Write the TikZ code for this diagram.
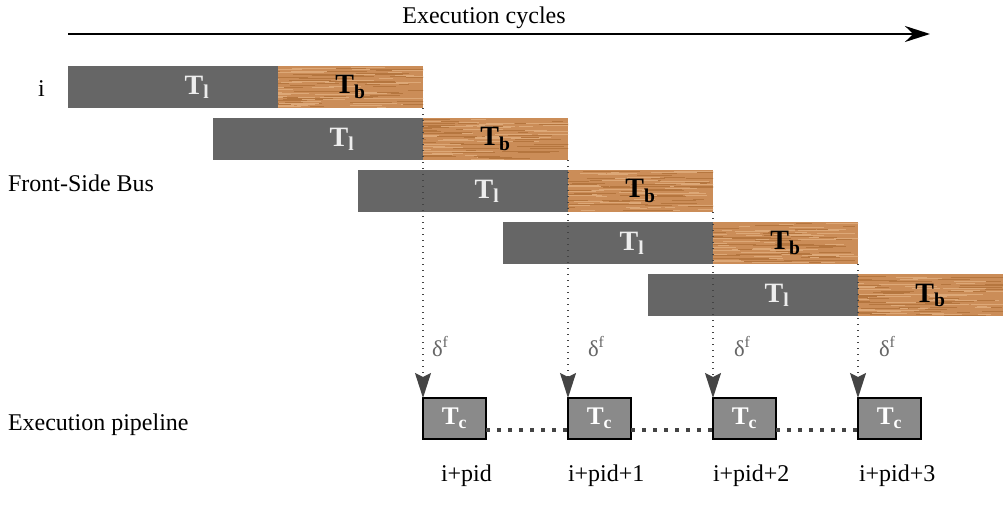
\documentclass[tikz,border=0pt]{standalone}
\usepackage{fontspec}
\setmainfont{Liberation Serif}
\usetikzlibrary{arrows.meta, positioning, calc}

\definecolor{barg}{HTML}{666666}
\definecolor{woodc}{HTML}{CB8D58}
\definecolor{woodd}{HTML}{B5763F}
\definecolor{woodl}{HTML}{DDA877}
\definecolor{tcg}{HTML}{8A8A8A}
\definecolor{arrg}{HTML}{444444}

\begin{document}
\begin{tikzpicture}[
        x=0.75pt, y=-0.75pt,
        every node/.style={inner sep=0pt, outer sep=0pt, font=\fontsize{18}{20}\selectfont},
        lat/.style={fill=barg, minimum width=157.5pt, minimum height=31.5pt, text=white!93!black, font=\fontsize{21}{23}\selectfont\bfseries},
        busbar/.style={fill=woodc, minimum width=108.75pt, minimum height=31.5pt, font=\fontsize{21}{23}\selectfont\bfseries,
            path picture={
                \foreach \gi in {1,...,110}{
                    \pgfmathsetmacro\gx{-30+160*rnd}
                    \pgfmathsetmacro\gy{1+40*rnd}
                    \pgfmathsetmacro\gl{8+40*rnd}
                    \pgfmathtruncatemacro\gc{mod(\gi,2)}
                    \ifnum\gc=0 \def\gcol{woodd}\else\def\gcol{woodl}\fi
                    \draw[\gcol, line width=0.4pt] ([shift={(\gx,\gy)}]path picture bounding box.north west) -- ++(\gl,0);
                }}},
        comp/.style={draw, line width=1.2pt, fill=tcg, minimum width=47.25pt, minimum height=30.75pt, text=white, font=\fontsize{19}{21}\selectfont\bfseries},
        fetch/.style={arrg, line width=1.1pt, dash pattern=on 1.1pt off 3.4pt, -{Stealth[length=18.75pt, width=12pt, inset=3pt]}},
        chain/.style={arrg, line width=2.7pt, dash pattern=on 2.7pt off 5.6pt},
        dlt/.style={text=barg, font=\fontsize{17}{19}\selectfont}
    ]
    \pgfmathsetseed{7}
    \useasboundingbox (0,0) rectangle (1003,510);

    % Time axis
    \coordinate (tstart) at (68,34);
    \coordinate (tend) at (930,34);
    \draw[line width=1.5pt, -{Stealth[length=18.75pt, width=12pt]}] (tstart) -- (tend);
    \node[anchor=base] (tlabel) at (484,24) {Execution cycles};

    % Front-side bus transfers
    \foreach \k in {1,...,5}{
        \node[lat] (gl\k) at ({173+145*(\k-1)}, {87+52*(\k-1)}) {\hspace*{36pt}T\textsubscript{l}};
        \node[busbar, right=0pt of gl\k] (wd\k) {T\textsubscript{b}};
    }

    % Execution pipeline
    \foreach \k in {1,...,4}
        \node[comp] (tc\k) at ({454.5+145*(\k-1)}, 418.5) {T\textsubscript{c}};

    % Fetch delays
    \foreach \k in {1,...,4}
        \draw[fetch] (wd\k.south east) -- (tc\k.north west);
    \foreach \k/\dx in {1/432, 2/588, 3/734, 4/879}
        \node[dlt, anchor=base west] (dl\k) at (\dx,356) {δ\textsuperscript{f}};

    % Pipeline chaining
    \foreach \a/\b in {1/2, 2/3, 3/4}
        \draw[chain] ([yshift=-8.6pt]tc\a.east) -- ([yshift=-8.6pt]tc\b.west);

    % Labels
    \node[anchor=base west] (lbi) at (38,97) {i};
    \node[anchor=base west] (lbfsb) at (8,191) {Front-Side Bus};
    \node[anchor=base west] (lbexe) at (8,430) {Execution pipeline};
    \node[anchor=base west] (st1) at (441,481) {i+pid};
    \node[anchor=base west] (st2) at (568,481) {i+pid+1};
    \node[anchor=base west] (st3) at (713,481) {i+pid+2};
    \node[anchor=base west] (st4) at (859,481) {i+pid+3};

\end{tikzpicture}
\end{document}
